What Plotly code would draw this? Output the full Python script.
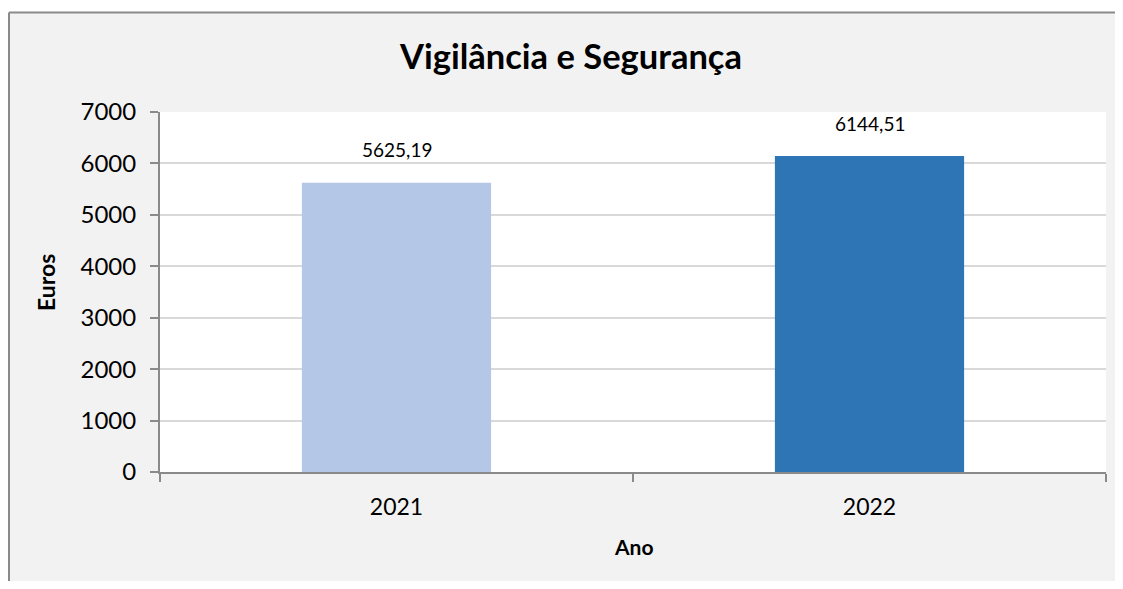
import plotly.graph_objects as go

categories = ["2021", "2022"]
values = [5625.19, 6144.51]
bar_colors = ["#b4c7e7", "#2e75b6"]
y_ticks = [0, 1000, 2000, 3000, 4000, 5000, 6000, 7000]
title_text = "Vigilância e Segurança"
x_title = "Ano"
y_title = "Euros"

# the page has an 8px body margin, so the figure is drawn at (8, 8);
# keep it inside the window so that no scrollbars appear
OFF = 8
W, H = 1123 - 2 * OFF, 589 - 2 * OFF
L, T = 160 - OFF, 112 - OFF
R = W - (1106 - OFF)
B = H - (472 - OFF)
pw, ph = W - L - R, H - T - B
FONT = "Lato"
AXIS_GRAY = "#8a8a8a"


def px_x(x):  # page pixel -> paper x
    return (x - OFF - L) / pw


def px_y(y):  # page pixel -> paper y
    return (H - B - (y - OFF)) / ph


fig = go.Figure()
fig.add_trace(go.Bar(
    x=categories, y=values, marker=dict(color=bar_colors, line=dict(width=0)),
    width=0.4, hoverinfo="x+y",
))

for i, v in enumerate(values):
    fig.add_annotation(x=i, y=v, xref="x", yref="y", text=f"{v:.2f}".replace(".", ","),
                       showarrow=False, yshift=33, xanchor="center", yanchor="middle",
                       font=dict(family=FONT, size=19, color="#000"))

shapes = [
    dict(type="rect", xref="paper", yref="paper", x0=px_x(OFF), x1=1.3, y0=-1,
         y1=px_y(12.5), fillcolor="#f2f2f2", line=dict(width=0), layer="below"),
    dict(type="line", xref="paper", yref="paper", x0=px_x(OFF + 1), x1=1.3, y0=px_y(12.5),
         y1=px_y(12.5), line=dict(color=AXIS_GRAY, width=2), layer="below"),
    dict(type="line", xref="paper", yref="paper", x0=px_x(OFF + 1), x1=px_x(OFF + 1), y0=-1,
         y1=px_y(12.5), line=dict(color=AXIS_GRAY, width=2), layer="below"),
    dict(type="rect", xref="paper", yref="paper", x0=0, x1=1, y0=0, y1=1,
         fillcolor="#ffffff", line=dict(width=0), layer="below"),
    dict(type="line", xref="paper", yref="paper", x0=0, x1=0, y0=0, y1=-8 / ph,
         line=dict(color=AXIS_GRAY, width=2), layer="above"),
]

fig.add_annotation(text=f"<b>{x_title}</b>", xref="paper", yref="paper",
                   x=px_x(633), y=px_y(546), xanchor="center", yanchor="middle", showarrow=False,
                   font=dict(family=FONT, size=21, color="#000"))
fig.add_annotation(text=f"<b>{y_title}</b>", xref="paper", yref="paper",
                   x=px_x(46), y=px_y(283), xanchor="center", yanchor="middle", showarrow=False,
                   textangle=-90, font=dict(family=FONT, size=23, color="#000"))

fig.update_layout(
    width=W, height=H,
    margin=dict(l=L, r=R, t=T, b=B, pad=0, autoexpand=False),
    paper_bgcolor="#ffffff", plot_bgcolor="rgba(0,0,0,0)",
    showlegend=False, shapes=shapes,
    title=dict(text=f"<b>{title_text}</b>", x=(571 - OFF) / W, xanchor="center", xref="container",
               y=1 - (57 - OFF) / H, yanchor="middle", yref="container",
               font=dict(family=FONT, size=34.5, color="#000")),
    font=dict(family=FONT, color="#000"),
)
fig.update_xaxes(
    type="category", range=[-0.5, 1.5], automargin=False,
    showline=True, linecolor=AXIS_GRAY, linewidth=2,
    ticks="outside", tickson="boundaries", ticklen=8, tickcolor=AXIS_GRAY, tickwidth=2,
    tickfont=dict(family=FONT, size=23, color="#000"), ticklabelstandoff=13, tickangle=0,
    showgrid=False, zeroline=False,
)
fig.update_yaxes(
    range=[0, 7000], tickvals=y_ticks, ticktext=[str(t) for t in y_ticks], automargin=False,
    showline=True, linecolor=AXIS_GRAY, linewidth=2,
    ticks="outside", ticklen=8, tickcolor=AXIS_GRAY, tickwidth=2,
    tickfont=dict(family=FONT, size=24, color="#000"), ticklabelstandoff=9,
    showgrid=True, gridcolor="#d9d9d9", gridwidth=1.5, zeroline=False,
)

fig.write_html("out.html")
